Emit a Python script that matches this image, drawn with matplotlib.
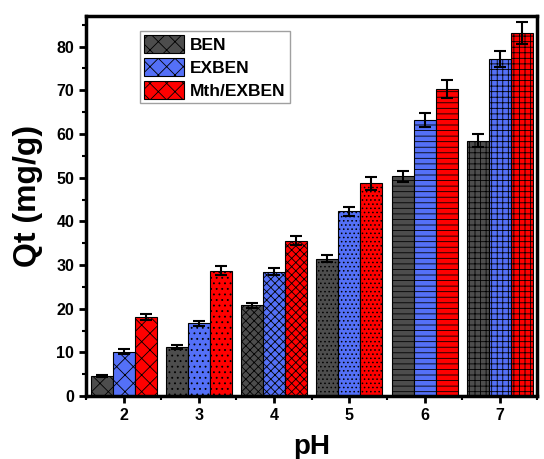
import matplotlib
matplotlib.use("Agg")
import matplotlib.pyplot as plt
import numpy as np
from matplotlib.patches import Patch

plt.rcParams['font.family'] = ['Liberation Sans', 'DejaVu Sans']
plt.rcParams['font.weight'] = 'bold'
plt.rcParams['hatch.linewidth'] = 0.6

ph = [2, 3, 4, 5, 6, 7]
series = ['BEN', 'EXBEN', 'Mth/EXBEN']
ben = [4.6, 11.2, 20.8, 31.4, 50.3, 58.5]
exben = [10.2, 16.7, 28.5, 42.3, 63.2, 77.2]
mth_exben = [18.2, 28.7, 35.6, 48.7, 70.3, 83.1]
ben_err = [0.3, 0.5, 0.6, 0.8, 1.2, 1.5]
exben_err = [0.5, 0.6, 0.8, 1.1, 1.5, 1.8]
mth_exben_err = [0.7, 1.0, 1.0, 1.5, 2.0, 2.5]

colors = ['#4d4d4d', '#5470f7', '#ff0000']
group_hatches = ['xx', '...', 'xxxx', '....', '---', '+++']

fig = plt.figure(figsize=(5.44, 4.59), dpi=100)
ax = fig.add_axes([0.158, 0.137, 0.83, 0.828])

width = 0.293
x = np.array(ph, dtype=float)
values = [ben, exben, mth_exben]
errors = [ben_err, exben_err, mth_exben_err]
for k, (vals, errs, col) in enumerate(zip(values, errors, colors)):
    pos = x + (k - 1) * width
    bars = ax.bar(pos, vals, width=width, color=col, edgecolor='black',
                  linewidth=0.8, zorder=2)
    for b, h in zip(bars, group_hatches):
        b.set_hatch(h)
    ax.errorbar(pos, vals, yerr=errs, fmt='none', ecolor='black',
                elinewidth=1.5, capsize=4, capthick=1.5, zorder=3)

ax.set_xlim(1.5, 7.5)
ax.set_ylim(0, 87)
ax.set_xticks(ph)
ax.set_xticks(np.arange(1.5, 7.6, 1.0), minor=True)
ax.set_yticks(np.arange(0, 81, 10))
ax.set_yticks(np.arange(0, 86, 5), minor=True)
ax.tick_params(axis='both', which='major', direction='out', length=5, width=2,
               labelsize=11.5)
ax.tick_params(axis='both', which='minor', direction='out', length=3, width=1.5)
for lbl in ax.get_xticklabels() + ax.get_yticklabels():
    lbl.set_fontweight('bold')
for s in ax.spines.values():
    s.set_linewidth(2.5)

ax.set_ylabel('Qt (mg/g)', fontsize=23, fontweight='bold')
ax.yaxis.set_label_coords(-0.095, 0.526)
ax.set_xlabel('pH', fontsize=20, fontweight='bold', labelpad=8)

handles = [Patch(facecolor=c, edgecolor='black', hatch='xx', linewidth=0.8)
           for c in colors]
leg = fig.legend(handles, series, loc='upper left',
                 bbox_to_anchor=(140 / 544, 1 - 31 / 459),
                 fontsize=12.5, frameon=True, fancybox=False,
                 edgecolor='#888888', borderaxespad=0.0,
                 handlelength=2.3, handleheight=1.2, labelspacing=0.3,
                 borderpad=0.25, handletextpad=0.35)
leg.get_frame().set_linewidth(1.0)
for t in leg.get_texts():
    t.set_fontweight('bold')

fig.savefig('out.png', dpi=100)
